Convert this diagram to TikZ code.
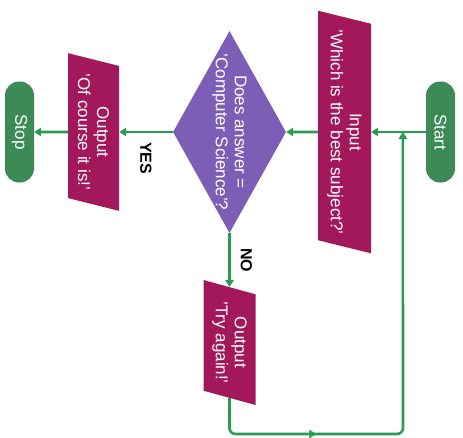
\documentclass[tikz,border=0pt]{standalone}
\usepackage{fontspec}
\setmainfont{Liberation Sans}
\usetikzlibrary{arrows.meta,positioning,calc,shapes.geometric,decorations.markings}
\definecolor{termgreen}{RGB}{60,138,86}
\definecolor{iomagenta}{RGB}{162,24,90}
\definecolor{decpurple}{RGB}{124,94,182}
\definecolor{linegreen}{RGB}{42,156,82}
\tikzset{
 terminal/.style={fill=termgreen,rounded corners=14pt,minimum width=101pt,minimum height=29pt,inner sep=0pt,text=white,font=\fontsize{17}{19}\selectfont},
 io/.style={trapezium,trapezium left angle=71,trapezium right angle=109,trapezium stretches=true,fill=iomagenta,inner sep=1pt,text=white,align=center,font=\fontsize{17}{19}\selectfont},
 decision/.style={diamond,fill=decpurple,inner sep=0pt,minimum width=202pt,minimum height=113pt},
 answer/.style={text=white,align=center,inner sep=0pt,font=\fontsize{17}{19}\selectfont},
 branch/.style={inner sep=0pt,font=\bfseries\fontsize{16}{18}\selectfont},
 flow/.style={draw=linegreen,line width=2.6pt,->}
}

\begin{document}
\begin{tikzpicture}[x=1pt,y=1pt,rotate=-90,transform shape,>={Triangle[length=7pt,width=8.5pt]}]
 \useasboundingbox (0,0) rectangle (437,463);
 \node[terminal] (start) at (132,440.5) {Start};
 \node[io,minimum width=243pt,minimum height=53pt] (input) at (132,344.5) {Input\\'Which is the best subject?'};
 \node[decision,label={[answer]center:Does answer =\\'Computer Science'?}] (check) at (132,229.5) {};
 \node[io,minimum width=158pt,minimum height=51pt] (yesout) at (132,93.5) {Output\\'Of course it is!'};
 \node[io,minimum width=125pt,minimum height=52pt] (noout) at (342.5,229.5) {Output\\'Try again!'};
 \node[terminal] (stop) at (132,19.5) {Stop};
 \coordinate (join) at ($(start.south)!0.42!(input.north)$);
 \coordinate (loopa) at (434,229.5);
 \coordinate (loopb) at (434,403);
 \draw[flow] (start) -- (input);
 \draw[flow] (input) -- (check);
 \draw[flow] (check) -- node[branch,right=9pt] {YES} (yesout);
 \draw[flow] (yesout) -- (stop);
 \draw[flow] (check) -- node[branch,above=10pt] {NO} (noout);
 \draw[flow,rounded corners=6pt] (noout.east) -- (loopa) -- (loopb) -- (join);
 \path[decorate,decoration={markings,mark=at position 0.5 with {\arrow[linegreen]{Triangle[length=7pt,width=8.5pt]}}}] (loopa) -- (loopb);
\end{tikzpicture}
\end{document}
